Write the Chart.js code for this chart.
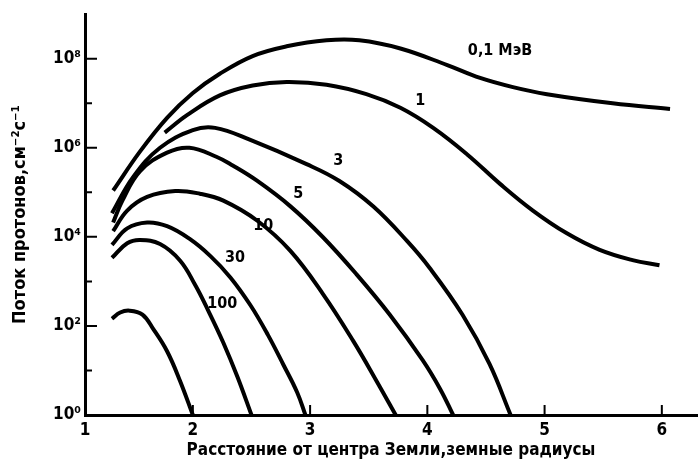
<!DOCTYPE html>
<html>
<head>
<meta charset="utf-8">
<script src="https://cdn.jsdelivr.net/npm/chart.js@4.4.0/dist/chart.umd.min.js"></script>
<style>
html, body { margin: 0; padding: 0; background: #fff; }
</style>
</head>
<body>
<canvas id="chart" width="698" height="467"></canvas>
<script>
// proton flux vs distance from Earth's centre, one curve per energy
const r01 = [1.32, 1.55, 1.78, 2.0, 2.23, 2.51, 2.80, 3.14, 3.42, 3.77, 4.17, 4.45, 4.73, 5.02, 5.58, 6.07];
const flux01 = [1.1e5, 8.3e5, 4.7e6, 1.7e7, 4.6e7, 1.15e8, 1.9e8, 2.6e8, 2.6e8, 1.7e8, 7.2e7, 3.7e7, 2.3e7, 1.6e7, 1.0e7, 7.4e6];

const r1 = [1.76, 1.95, 2.23, 2.51, 2.80, 3.14, 3.48, 3.77, 4.05, 4.34, 4.62, 4.90, 5.19, 5.47, 5.75, 5.98];
const flux1 = [2.2e6, 5.4e6, 1.5e7, 2.5e7, 3.0e7, 2.6e7, 1.6e7, 7.9e6, 2.8e6, 7.1e5, 1.55e5, 3.9e4, 1.2e4, 5.1e3, 3.0e3, 2.3e3];

const r3 = [1.31, 1.49, 1.72, 2.0, 2.19, 2.49, 2.97, 3.25, 3.54, 3.83, 4.02, 4.30, 4.53, 4.71];
const flux3 = [3.4e4, 2.2e5, 1.0e6, 2.5e6, 2.8e6, 1.5e6, 4.3e5, 1.8e5, 4.8e4, 7.9e3, 2.0e3, 178, 14, 1];

const r5 = [1.32, 1.40, 1.55, 1.78, 1.97, 2.20, 2.34, 2.55, 2.83, 3.11, 3.40, 3.68, 3.96, 4.11, 4.22];
const flux5 = [2.1e4, 6.6e4, 3.0e5, 7.8e5, 1.0e6, 6.3e5, 4.0e5, 1.8e5, 4.9e4, 9.8e3, 1.4e3, 178, 17, 3.8, 1];

const r10 = [1.32, 1.44, 1.61, 1.85, 2.06, 2.26, 2.55, 2.83, 3.11, 3.37, 3.57, 3.73];
const flux10 = [1.35e4, 3.9e4, 7.9e4, 1.07e5, 9.3e4, 6.5e4, 2.3e4, 4.9e3, 520, 45, 5.6, 1];

const r30 = [1.31, 1.44, 1.61, 1.78, 1.97, 2.15, 2.32, 2.49, 2.64, 2.77, 2.89, 2.96];
const flux30 = [6.6e3, 1.55e4, 2.1e4, 1.74e4, 9.1e3, 3.7e3, 1.23e3, 295, 63, 13.8, 3.2, 1];

const r100 = [1.31, 1.44, 1.55, 1.72, 1.89, 2.02, 2.13, 2.26, 2.38, 2.50];
const flux100 = [3.4e3, 7.2e3, 8.5e3, 6.9e3, 2.95e3, 830, 224, 42, 7.2, 1];

const rLow = [1.31, 1.38, 1.46, 1.57, 1.66, 1.78, 1.89, 2.0];
const fluxLow = [145, 200, 220, 180, 87, 27, 5.9, 1];

// curve labels, anchored in data space
const labelTexts = ['0,1 МэВ', '1', '3', '5', '10', '30', '100'];
const labelR = [4.62, 3.94, 3.24, 2.90, 2.60, 2.36, 2.25];
const labelFlux = [1.5e8, 1.15e7, 5e5, 9.3e4, 1.8e4, 3.4e3, 310];

const xTickValues = [1, 2, 3, 4, 5, 6];
const yTickValues = [1, 10, 100, 1e3, 1e4, 1e5, 1e6, 1e7, 1e8];
const yTickLabels = ['10⁰', '', '10²', '', '10⁴', '', '10⁶', '', '10⁸'];

const X_MIN = 1.08;
const X_MAX = 6.3;
const FONT = '"Liberation Sans Narrow", "DejaVu Sans Condensed", "Liberation Sans", sans-serif';

const toPoints = (xs, ys) => xs.map((v, i) => ({ x: v, y: ys[i] }));

const series = [
  [r01, flux01], [r1, flux1], [r3, flux3], [r5, flux5],
  [r10, flux10], [r30, flux30], [r100, flux100], [rLow, fluxLow]
];

// tick marks pointing into the plot, like the original figure
const inwardTicks = {
  id: 'inwardTicks',
  afterDraw(chart) {
    const { ctx, chartArea, scales } = chart;
    ctx.save();
    ctx.strokeStyle = '#000';
    ctx.lineWidth = 2;
    ctx.beginPath();
    xTickValues.slice(1).forEach(v => {
      const px = scales.x.getPixelForValue(v);
      ctx.moveTo(px, chartArea.bottom);
      ctx.lineTo(px, chartArea.bottom - 10);
    });
    yTickValues.slice(1).forEach((v, i) => {
      const py = scales.y.getPixelForValue(v);
      const len = yTickLabels[i + 1] ? 12 : 7;
      ctx.moveTo(chartArea.left, py);
      ctx.lineTo(chartArea.left + len, py);
    });
    ctx.stroke();
    ctx.restore();
  }
};

const curveLabels = {
  id: 'curveLabels',
  afterDatasetsDraw(chart) {
    const { ctx, scales } = chart;
    ctx.save();
    ctx.fillStyle = '#000';
    ctx.font = 'bold 16px ' + FONT;
    ctx.textAlign = 'center';
    ctx.textBaseline = 'middle';
    labelTexts.forEach((t, i) => {
      ctx.fillText(t, scales.x.getPixelForValue(labelR[i]), scales.y.getPixelForValue(labelFlux[i]));
    });
    ctx.restore();
  }
};

const ctx = document.getElementById('chart').getContext('2d');
const myChart = new Chart(ctx, {
  type: 'line',
  data: {
    datasets: series.map(s => ({
      data: toPoints(s[0], s[1]),
      borderColor: '#000',
      backgroundColor: 'transparent',
      borderWidth: 4,
      pointRadius: 0,
      tension: 0.4,
      fill: false
    }))
  },
  options: {
    responsive: false,
    animation: false,
    devicePixelRatio: 1,
    layout: { padding: { top: 7, right: 1, left: 0, bottom: 0 } },
    plugins: {
      legend: { display: false },
      tooltip: { enabled: false }
    },
    scales: {
      x: {
        type: 'linear',
        min: X_MIN,
        max: X_MAX,
        grid: { display: false, drawTicks: false },
        border: { display: true, color: '#000', width: 3 },
        afterBuildTicks: scale => {
          scale.ticks = xTickValues.map(v => ({ value: Math.max(v, X_MIN) }));
        },
        afterFit: scale => { scale.height = 52; },
        ticks: {
          color: '#000',
          padding: 5,
          font: { family: FONT, size: 17, weight: 'bold' },
          callback: (v, i) => String(xTickValues[i])
        },
        title: {
          display: true,
          text: 'Расстояние от центра Земли,земные радиусы',
          color: '#000',
          font: { family: FONT, size: 17, weight: 'bold' },
          padding: { top: 0, bottom: 6 }
        }
      },
      y: {
        type: 'logarithmic',
        min: 1,
        max: 1e9,
        grid: { display: false, drawTicks: false },
        border: { display: true, color: '#000', width: 3 },
        afterBuildTicks: scale => {
          scale.ticks = yTickValues.map(v => ({ value: v }));
        },
        afterFit: scale => { scale.width = 85; },
        ticks: {
          color: '#000',
          padding: 4,
          autoSkip: false,
          font: { family: FONT, size: 17, weight: 'bold' },
          callback: (v, i) => yTickLabels[i]
        },
        title: {
          display: true,
          text: 'Поток протонов,см⁻²с⁻¹',
          color: '#000',
          font: { family: FONT, size: 18, weight: 'bold' },
          padding: { top: 10, bottom: 0 }
        }
      }
    }
  },
  plugins: [inwardTicks, curveLabels]
});
</script>
</body>
</html>
